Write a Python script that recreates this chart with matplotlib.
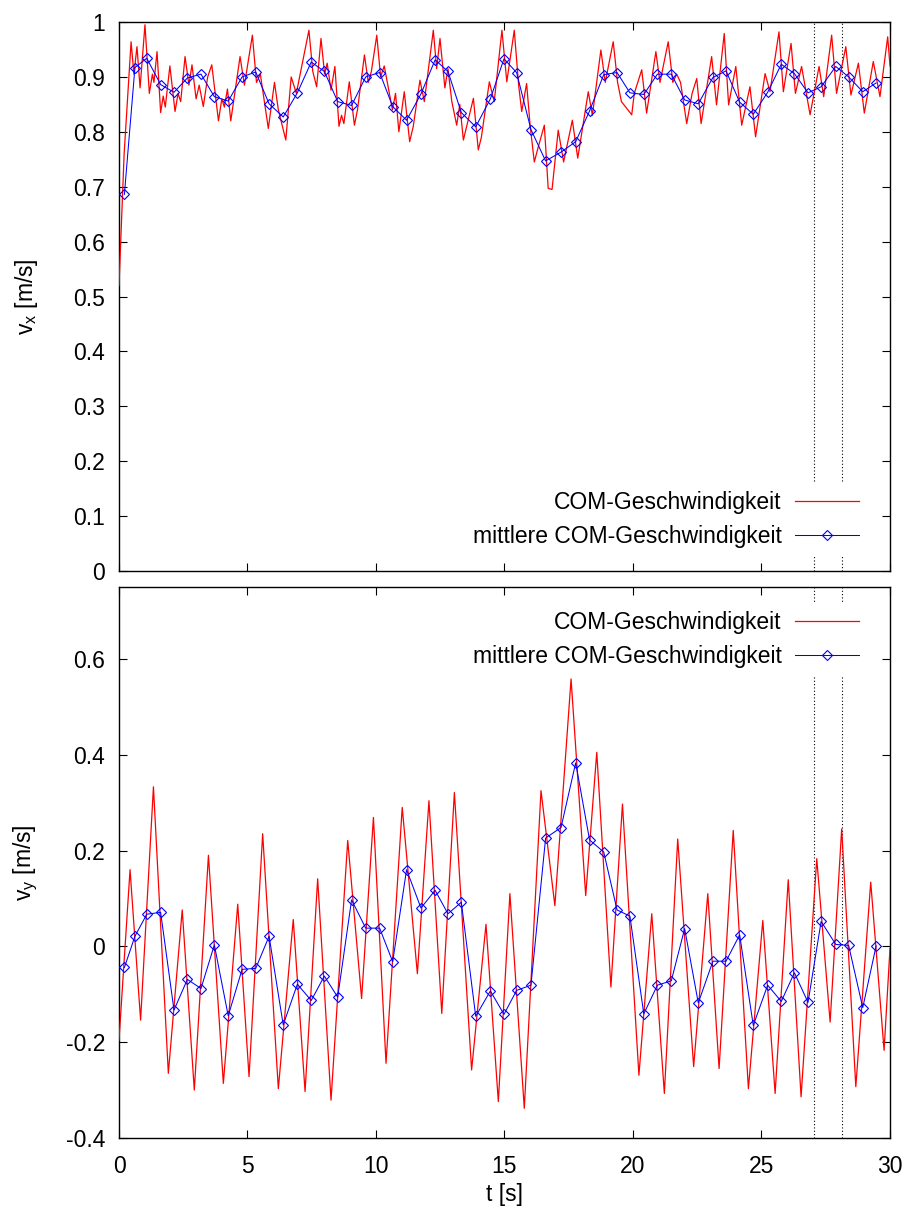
import matplotlib
matplotlib.use('Agg')
import matplotlib.pyplot as plt
from matplotlib.lines import Line2D

plt.rcParams['font.family'] = ['Liberation Sans', 'DejaVu Sans']
plt.rcParams['mathtext.fontset'] = 'custom'
plt.rcParams['mathtext.rm'] = 'Liberation Sans'
plt.rcParams['mathtext.it'] = 'Liberation Sans:italic'
plt.rcParams['axes.unicode_minus'] = False

# ---------------- data ----------------
# mean (per step) COM velocity
t_mean = [0.21, 0.62, 1.08, 1.62, 2.14, 2.66, 3.19, 3.71, 4.25, 4.79,
          5.32, 5.84, 6.39, 6.94, 7.48, 7.99, 8.51, 9.05, 9.60, 10.14,
          10.65, 11.19, 11.75, 12.30, 12.80, 13.32, 13.88, 14.45, 14.98, 15.47,
          16.03, 16.60, 17.20, 17.77, 18.31, 18.86, 19.38, 19.88, 20.42, 20.95,
          21.49, 22.01, 22.54, 23.11, 23.62, 24.15, 24.68, 25.24, 25.77, 26.28,
          26.81, 27.32, 27.89, 28.39, 28.94, 29.46]
vx_mean = [0.686, 0.917, 0.934, 0.886, 0.872, 0.898, 0.905, 0.864, 0.856, 0.900,
           0.909, 0.851, 0.827, 0.871, 0.927, 0.910, 0.855, 0.848, 0.900, 0.908,
           0.846, 0.821, 0.869, 0.931, 0.910, 0.835, 0.809, 0.860, 0.933, 0.908,
           0.804, 0.747, 0.763, 0.782, 0.838, 0.904, 0.908, 0.871, 0.868, 0.905,
           0.905, 0.858, 0.851, 0.899, 0.911, 0.854, 0.832, 0.872, 0.923, 0.906,
           0.871, 0.882, 0.919, 0.900, 0.873, 0.889]
vy_mean = [-0.044, 0.021, 0.067, 0.071, -0.133, -0.069, -0.088, 0.003, -0.145, -0.048,
           -0.046, 0.021, -0.164, -0.079, -0.113, -0.062, -0.106, 0.097, 0.038, 0.038,
           -0.032, 0.160, 0.080, 0.117, 0.068, 0.092, -0.146, -0.093, -0.142, -0.092,
           -0.081, 0.226, 0.248, 0.383, 0.222, 0.197, 0.076, 0.063, -0.141, -0.081,
           -0.072, 0.037, -0.118, -0.031, -0.031, 0.024, -0.165, -0.081, -0.115, -0.055,
           -0.117, 0.052, 0.004, 0.002, -0.128, 0.001]

# instantaneous COM velocity, x component (read peaks / troughs)
t_vx = [0.00, 0.20, 0.47, 0.58, 0.70, 0.82, 1.01, 1.18, 1.30, 1.36, 1.48, 1.62, 1.72, 1.80,
        1.98, 2.18, 2.30, 2.40, 2.57, 2.72, 2.84, 3.00, 3.12, 3.28, 3.45, 3.61, 3.87, 4.00,
        4.10, 4.22, 4.35, 4.71, 4.88, 5.19, 5.35, 5.50, 5.81, 6.05, 6.20, 6.49, 6.70, 6.90,
        7.39, 7.54, 7.69, 7.86, 8.00, 8.10, 8.25, 8.40, 8.56, 8.66, 8.75, 8.96, 9.16, 9.28,
        9.55, 9.70, 9.82, 10.03, 10.18, 10.32, 10.64, 10.76, 10.89, 11.10, 11.31, 11.45, 11.71, 11.88,
        12.23, 12.36, 12.49, 12.68, 12.80, 12.95, 13.14, 13.26, 13.40, 13.79, 13.98, 14.10, 14.41, 14.60,
        14.90, 15.09, 15.38, 15.55, 15.67, 15.86, 16.00, 16.16, 16.30, 16.55, 16.70, 16.85, 17.09, 17.30,
        17.64, 17.85, 18.26, 18.42, 18.75, 18.92, 19.23, 19.40, 19.55, 19.95, 20.05, 20.34, 20.53, 20.89,
        21.05, 21.37, 21.55, 21.70, 21.85, 22.09, 22.30, 22.48, 22.65, 23.06, 23.25, 23.55, 23.72, 24.00,
        24.23, 24.55, 24.77, 25.14, 25.33, 25.68, 25.85, 26.15, 26.32, 26.56, 26.89, 27.24, 27.42, 27.73,
        27.92, 28.28, 28.48, 28.77, 29.00, 29.35, 29.61, 29.91, 30.00]
vx = [0.52, 0.76, 0.964, 0.905, 0.955, 0.880, 0.995, 0.870, 0.905, 0.890, 0.946, 0.835, 0.865, 0.845,
      0.920, 0.837, 0.870, 0.855, 0.937, 0.885, 0.922, 0.860, 0.885, 0.846, 0.900, 0.922, 0.820, 0.860,
      0.845, 0.878, 0.820, 0.937, 0.885, 0.976, 0.890, 0.905, 0.806, 0.890, 0.840, 0.785, 0.900, 0.870,
      0.985, 0.910, 0.882, 0.970, 0.905, 0.925, 0.876, 0.919, 0.810, 0.830, 0.815, 0.891, 0.812, 0.840,
      0.940, 0.890, 0.910, 0.976, 0.900, 0.920, 0.840, 0.870, 0.800, 0.873, 0.782, 0.810, 0.894, 0.855,
      0.985, 0.915, 0.970, 0.880, 0.915, 0.855, 0.812, 0.850, 0.785, 0.861, 0.767, 0.790, 0.891, 0.855,
      0.985, 0.891, 0.985, 0.885, 0.837, 0.888, 0.810, 0.745, 0.770, 0.812, 0.697, 0.695, 0.803, 0.745,
      0.821, 0.752, 0.873, 0.830, 0.949, 0.890, 0.964, 0.890, 0.855, 0.831, 0.870, 0.913, 0.834, 0.946,
      0.890, 0.964, 0.890, 0.905, 0.890, 0.815, 0.870, 0.897, 0.815, 0.937, 0.849, 0.979, 0.849, 0.919,
      0.812, 0.882, 0.791, 0.906, 0.873, 0.982, 0.873, 0.961, 0.870, 0.919, 0.831, 0.919, 0.864, 0.976,
      0.870, 0.955, 0.867, 0.925, 0.834, 0.928, 0.864, 0.973, 0.920]

# instantaneous COM velocity, y component (read peaks / troughs)
t_vy = [0.00, 0.43, 0.84, 1.34, 1.92, 2.46, 2.93, 3.48, 4.06, 4.62, 5.06, 5.59, 6.20, 6.78,
        7.24, 7.73, 8.25, 8.90, 9.44, 9.90, 10.39, 11.02, 11.61, 12.06, 12.56, 13.05, 13.72, 14.28,
        14.76, 15.21, 15.77, 16.42, 16.96, 17.59, 18.16, 18.59, 19.14, 19.59, 20.23, 20.73, 21.22, 21.74,
        22.36, 22.91, 23.35, 23.90, 24.49, 25.05, 25.53, 26.04, 26.54, 27.15, 27.67, 28.12, 28.67, 29.25,
        29.77, 30.00]
vy = [-0.196, 0.160, -0.154, 0.333, -0.265, 0.076, -0.300, 0.190, -0.286, 0.088, -0.272, 0.235, -0.297, 0.056,
      -0.303, 0.141, -0.321, 0.221, -0.109, 0.269, -0.244, 0.290, -0.057, 0.304, -0.140, 0.321, -0.258, 0.046,
      -0.324, 0.110, -0.338, 0.325, 0.085, 0.558, 0.106, 0.405, -0.085, 0.297, -0.269, 0.068, -0.307, 0.224,
      -0.251, 0.110, -0.255, 0.242, -0.297, 0.054, -0.307, 0.139, -0.314, 0.183, -0.158, 0.245, -0.293, 0.134,
      -0.217, -0.004]

marker_times = [27.05, 28.13]
x_ticks = [0, 5, 10, 15, 20, 25, 30]
vx_ticks = [0, 0.1, 0.2, 0.3, 0.4, 0.5, 0.6, 0.7, 0.8, 0.9, 1.0]
vx_ticklabels = ['0', '0.1', '0.2', '0.3', '0.4', '0.5', '0.6', '0.7', '0.8', '0.9', '1']
vy_ticks = [-0.4, -0.2, 0, 0.2, 0.4, 0.6]
vy_ticklabels = ['-0.4', '-0.2', '0', '0.2', '0.4', '0.6']

lbl_inst = 'COM-Geschwindigkeit'
lbl_mean = 'mittlere COM-Geschwindigkeit'

# ---------------- figure ----------------
W, H = 903, 1209
fig = plt.figure(figsize=(W / 100, H / 100), dpi=100)


def axes_px(l, r, t, b):
    return fig.add_axes([l / W, 1 - b / H, (r - l) / W, (b - t) / H])


ax1 = axes_px(119, 890, 22, 571)
ax2 = axes_px(119, 890, 587, 1138)
FS = 16.5
RED = '#ff0000'
BLUE = '#0000ff'
MS = 5.0

for ax, tr, vr, vm, lim, ticks, tlabels, ylab, leg_y in [
        (ax1, t_vx, vx, vx_mean, (0, 1), vx_ticks, vx_ticklabels, r'v$_{\mathrm{x}}$ [m/s]', 0.0930),
        (ax2, t_vy, vy, vy_mean, (-0.4, 0.75), vy_ticks, vy_ticklabels, r'v$_{\mathrm{y}}$ [m/s]', 0.905)]:
    ax.plot(tr, vr, color=RED, lw=0.9, zorder=3)
    ax.plot(t_mean, vm, color=BLUE, lw=0.75, marker='D', markersize=MS,
            markerfacecolor='none', markeredgecolor=BLUE, markeredgewidth=0.8, zorder=4)
    for tm in marker_times:
        ax.axvline(tm, color='black', lw=0.8, ls=(0, (1, 2)), zorder=2)
    ax.set_xlim(0, 30)
    ax.set_ylim(*lim)
    ax.set_xticks(x_ticks)
    ax.set_yticks(ticks)
    ax.set_yticklabels(tlabels)
    ax.tick_params(direction='in', length=6, width=0.8, top=True, right=True,
                   labelsize=FS, pad=10, colors='black')
    ax.tick_params(axis='x', pad=12)
    for s in ax.spines.values():
        s.set_linewidth(1.0)
    ax.set_ylabel(ylab, fontsize=FS)
    ax.yaxis.set_label_coords(-0.1025, 0.5)
    handles = [Line2D([], [], color=RED, lw=0.9),
               Line2D([], [], color=BLUE, lw=0.75, marker='D', markersize=MS,
                      markerfacecolor='none', markeredgecolor=BLUE, markeredgewidth=0.8)]
    leg = ax.legend(handles, [lbl_inst, lbl_mean], loc='center right',
                    bbox_to_anchor=(0.970, leg_y), frameon=True, fancybox=False,
                    edgecolor='none', facecolor='white', framealpha=1, markerfirst=False,
                    handlelength=2.77, handletextpad=0.6, labelspacing=0.48,
                    borderpad=0.35, borderaxespad=0, fontsize=FS)
    leg.set_zorder(5)

ax1.tick_params(axis='x', labelbottom=False)
ax2.set_xlabel('t [s]', fontsize=FS)
ax2.xaxis.set_label_coords(0.5, -0.1034)
ax2.xaxis.label.set_va('center')

fig.savefig('out.png', dpi=100)
